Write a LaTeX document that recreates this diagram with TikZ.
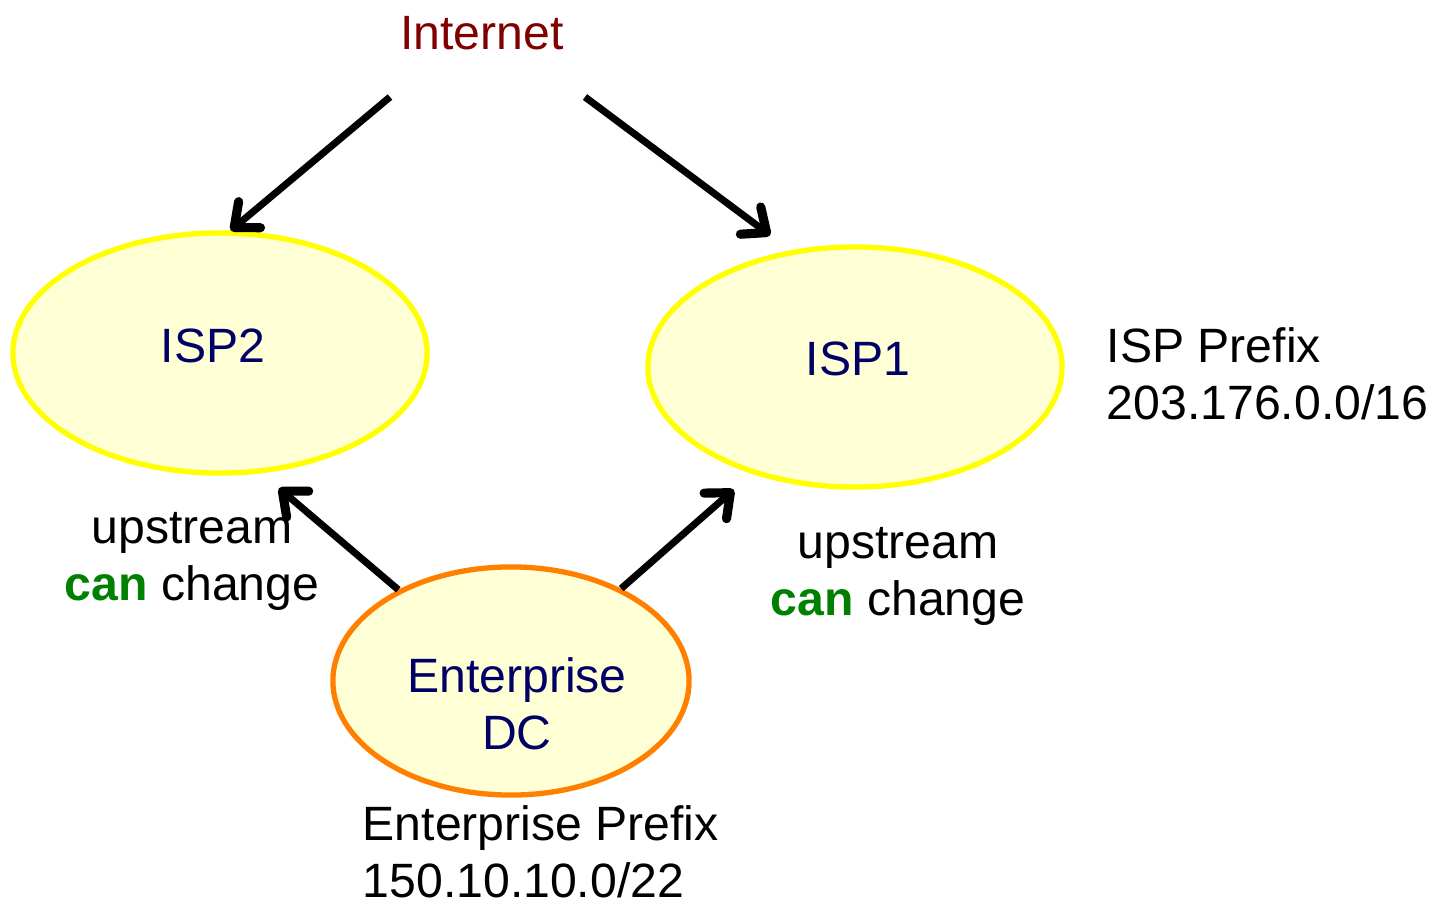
\documentclass[tikz,border=0pt]{standalone}
\usepackage{fontspec}
\setmainfont{Liberation Sans}
\usetikzlibrary{shapes.geometric,arrows.meta}

\definecolor{ispborder}{HTML}{FFFF00}
\definecolor{dcborder}{HTML}{FF8000}
\definecolor{cloudfill}{HTML}{FFFFD5}
\definecolor{navytext}{HTML}{000066}
\definecolor{inettext}{HTML}{800000}
\definecolor{cangreen}{HTML}{008000}
\newcommand\netfont{\fontsize{13.7pt}{16pt}\selectfont}

\begin{document}
\begin{tikzpicture}[x=0.01cm,y=-0.01cm,
  isp node/.style={ellipse,draw=ispborder,fill=cloudfill,line width=1.5pt,minimum width=4.14cm,minimum height=2.4cm},
  dc node/.style={ellipse,draw=dcborder,fill=cloudfill,line width=1.5pt,minimum width=3.56cm,minimum height=2.28cm},
  name text/.style={text=navytext,font=\netfont,inner sep=0pt},
  note text/.style={font=\netfont,inner sep=0pt},
  link/.style={-{Straight Barb[length=2mm,width=3.4mm,round,line width=2.6pt]},line width=2pt}]

  \useasboundingbox (0,0) rectangle (1429,903);

  % clouds
  \node[isp node] (isp2) at (220,353) {};
  \node[isp node] (isp1) at (855,367) {};
  \node[dc node] (dc) at (511,681) {};

  \node[name text,anchor=base] (isp2text) at (213,362) {ISP2};
  \node[name text,anchor=base] (isp1text) at (858,375) {ISP1};
  \node[name text,anchor=base,align=center] (dctext) at (517,749) {Enterprise\\DC};

  % labels (base = last line)
  \node[note text,anchor=base,text=inettext] (inet) at (482,50) {Internet};
  \node[note text,anchor=base,align=center] (upleft) at (192,600) {upstream\\\textcolor{cangreen}{\textbf{can}} change};
  \node[note text,anchor=base,align=center] (upright) at (898,615) {upstream\\\textcolor{cangreen}{\textbf{can}} change};
  \node[note text,anchor=base west,align=left] (ispprefix) at (1106,419) {ISP Prefix\\203.176.0.0/16};
  \node[note text,anchor=base west,align=left] (dcprefix) at (362,897) {Enterprise Prefix\\150.10.10.0/22};

  \coordinate (inetleft) at (390,97);
  \coordinate (inetright) at (585,97);

  % links
  \draw[link] (inetleft) -- (isp2.85);
  \draw[link,shorten >=0.25cm] (inetright) -- (isp1.119);
  \draw[link,shorten >=0.23cm] (dc.141) -- (isp2.289);
  \draw[link,shorten >=0.24cm] (dc.40) -- (isp1.226);
\end{tikzpicture}
\end{document}
